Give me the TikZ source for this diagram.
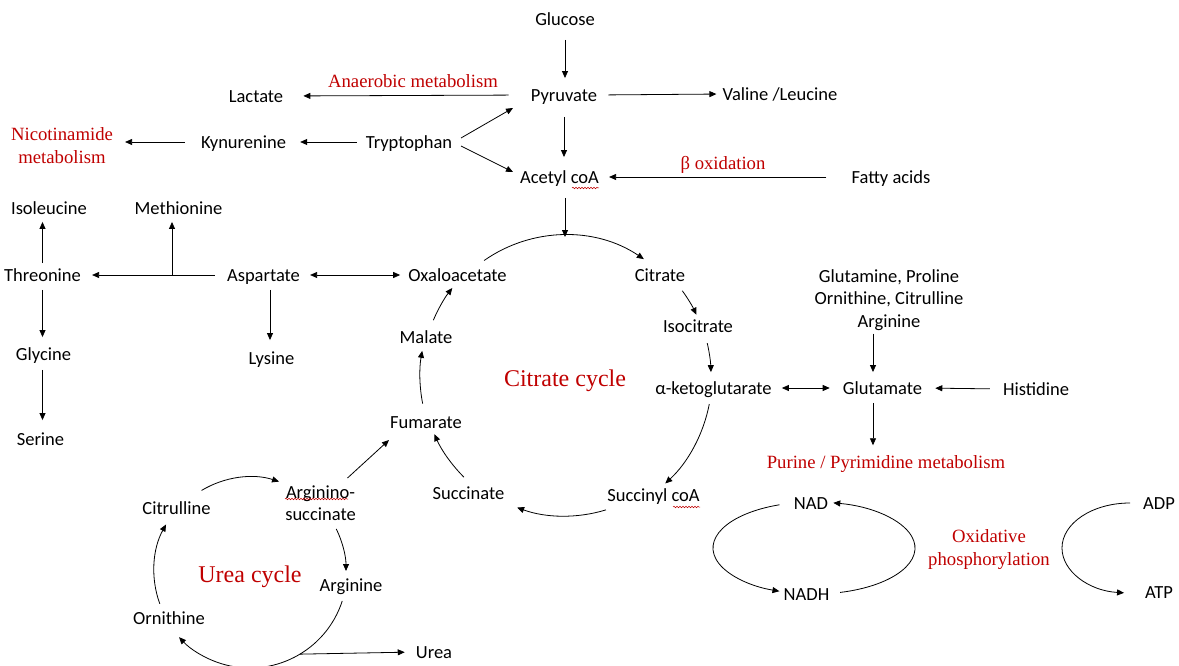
\documentclass[tikz,border=0pt]{standalone}
\usepackage{fontspec}
\newfontfamily\cfont{Carlito}
\newfontfamily\tfont{Liberation Serif}
\usetikzlibrary{arrows.meta,calc,decorations.pathmorphing}
\definecolor{redc}{HTML}{C00000}
\begin{document}
\begin{tikzpicture}[x=1pt,y=1pt,
  lb/.style={font=\cfont\fontsize{18.5}{22.5}\selectfont, inner sep=0pt, text height=14pt, text depth=1.5pt},
  lbm/.style={font=\cfont\fontsize{18.5}{22.5}\selectfont, inner sep=0pt, align=center},
  rd/.style={font=\tfont\fontsize{18.7}{23}\selectfont, text=redc, inner sep=0pt, align=center},
  rdbig/.style={font=\tfont\fontsize{24}{28}\selectfont, text=redc, inner sep=0pt},
  arr/.style={-{Triangle[length=7pt,width=6pt]}, line width=0.8pt},
  darr/.style={{Triangle[length=7pt,width=6pt]}-{Triangle[length=7pt,width=6pt]}, line width=0.8pt},
  squig/.style={redc, line width=0.5pt, decorate, decoration={snake, amplitude=0.8pt, segment length=3pt}}
]
\fill[white] (0,0) rectangle (1179,-666);
\useasboundingbox (0,0) rectangle (1179,-666);

% --- metabolites ---
\node[lb] (glu) at (565,-19) {Glucose};
\node[lb] (pyr) at (564,-95) {Pyruvate};
\node[lb] (lac) at (256,-96) {Lactate};
\node[lb] (val) at (780,-94) {Valine /Leucine};
\node[lb] (kyn) at (243.5,-142) {Kynurenine};
\node[lb] (try) at (409,-142) {Tryptophan};
\node[lb] (ace) at (559.5,-177) {Acetyl coA};
\node[lb] (fat) at (891,-177) {Fatty acids};
\node[lb] (iso) at (49,-208) {Isoleucine};
\node[lb] (met) at (178.5,-208) {Methionine};
\node[lb] (thr) at (42.5,-275) {Threonine};
\node[lb] (asp) at (263.5,-275) {Aspartate};
\node[lb] (oxa) at (457.5,-275) {Oxaloacetate};
\node[lb] (cit) at (660,-275) {Citrate};
\node[lbm] (gln) at (889,-300) {Glutamine, Proline\\Ornithine, Citrulline\\Arginine};
\node[lb] (icit) at (698,-326) {Isocitrate};
\node[lb] (mal) at (426,-337) {Malate};
\node[lb] (lys) at (271.5,-358) {Lysine};
\node[lb] (gly) at (43.5,-354) {Glycine};
\node[lb] (akg) at (713.5,-388) {α-ketoglutarate};
\node[lb] (glm) at (882.5,-388) {Glutamate};
\node[lb] (his) at (1036,-389) {Histidine};
\node[lb] (fum) at (426,-422) {Fumarate};
\node[lb] (ser) at (40.5,-439) {Serine};
\node[lb] (suc) at (468.5,-493) {Succinate};
\node[lb] (sca) at (653.5,-495) {Succinyl coA};
\node[lbm] (asu) at (320.5,-503) {Arginino-\\succinate};
\node[lb] (ctl) at (176.5,-508) {Citrulline};
\node[lb] (nad) at (811,-503) {NAD};
\node[lb] (adp) at (1159,-503) {ADP};
\node[lb] (arg) at (351,-585) {Arginine};
\node[lb] (nadh) at (806.5,-594) {NADH};
\node[lb] (atp) at (1159,-592) {ATP};
\node[lb] (orn) at (169,-618) {Ornithine};
\node[lb] (urea) at (434,-652) {Urea};

% --- pathway labels ---
\node[rd] (anae) at (413,-81) {Anaerobic metabolism};
\node[rd] (nic) at (62,-146) {Nicotinamide\\metabolism};
\node[rd] (beta) at (723,-165) {β oxidation};
\node[rd] (pur) at (886,-464) {Purine / Pyrimidine metabolism};
\node[rd] (oxp) at (989,-550) {Oxidative\\phosphorylation};
\node[rdbig] (tca) at (565,-381) {Citrate cycle};
\node[rdbig] (ucl) at (250,-577) {Urea cycle};

% cycle centres and branch points
\coordinate (tcac) at (565,-376);
\coordinate (ucc) at (250,-571);
\coordinate (nadc) at (814,-548);
\coordinate (atpc) at (1130,-548);
\coordinate (br) at (172,-275);
\coordinate (gax) at (873,-388);

% --- spelling squiggles ---
\draw[squig] (572,-188) -- (599,-188);
\draw[squig] (673,-507) -- (700,-507);
\draw[squig] (285,-499) -- (348,-499);

% --- glycolysis and entry points ---
\draw[arr, shorten <=13pt, shorten >=9pt] (glu.south) -- (glu.south |- pyr.north);
\draw[arr, shorten <=22pt, shorten >=20pt] (pyr.west) -- (lac.east);
\draw[arr, shorten <=11pt, shorten >=6pt] (pyr.east) -- (val.west);
\draw[arr, shorten <=14pt, shorten >=12pt] (pyr.south) -- (pyr.south |- ace.north);
\draw[arr] ($(try.center)+(52,4)$) -- ($(pyr.center)+(-51,-13)$);
\draw[arr] ($(try.center)+(52,-4)$) -- ($(ace.center)+(-46.5,5)$);
\draw[arr, shorten <=9pt, shorten >=14pt] (try.west) -- (kyn.east);
\draw[arr, shorten <=16pt, shorten >=12pt] (kyn.west) -- (kyn.west -| nic.east);
\draw[arr, shorten <=25pt, shorten >=10pt] (fat.west) -- (ace.east);
\draw[arr, shorten <=13pt] (ace.south -| tcac) -- ($(tcac)+(0,139)$);

% --- aspartate family ---
\draw[arr, shorten <=12pt, shorten >=11pt] (asp.west) -- (thr.east);
\draw[arr, shorten >=6pt] (br) -- (br |- met.south);
\draw[arr, shorten <=4pt, shorten >=6pt] (thr.north) -- (thr.north |- iso.south);
\draw[arr, shorten <=7pt, shorten >=9pt] (thr.south) -- (thr.south |- gly.north);
\draw[arr, shorten <=8pt, shorten >=11pt] (gly.south -| thr) -- (thr |- ser.north);
\draw[arr, shorten <=7pt, shorten >=10pt] ([xshift=-1.5pt]lys.north |- asp.south) -- ([xshift=-1.5pt]lys.north);
\draw[darr, shorten <=10pt, shorten >=8pt] (asp.east) -- (oxa.west);

% --- citrate cycle ---
\draw[arr] ($(tcac)+(125:141)$) arc[start angle=125, end angle=56, radius=141];
\draw[arr] ($(tcac)+(36:145)$) arc[start angle=36, end angle=25, radius=145];
\draw[arr] ($(tcac)+(13:146)$) arc[start angle=13, end angle=1.5, radius=146];
\draw[arr] ($(tcac)+(-11:147)$) arc[start angle=-11, end angle=-47, radius=147];
\draw[arr] ($(tcac)+(-73:140)$) arc[start angle=-73, end angle=-110, radius=140];
\draw[arr] ($(tcac)+(-135:143)$) arc[start angle=-135, end angle=-156, radius=143];
\draw[arr] ($(tcac)+(191:145)$) arc[start angle=191, end angle=170, radius=145];
\draw[arr] ($(tcac)+(157:143)$) arc[start angle=157, end angle=142, radius=143];

% --- glutamate family ---
\draw[darr, shorten <=10pt, shorten >=13pt] (akg.east) -- (glm.west);
\draw[arr, shorten <=13pt, shorten >=13pt] (his.west) -- (glm.east);
\draw[arr, shorten <=3pt, shorten >=8pt] (gax |- gln.south) -- (gax |- glm.north);
\draw[arr, shorten <=7pt] (gax |- glm.south) -- ($(gax |- pur.north)+(0,10)$);

% --- urea cycle ---
\draw[arr] ($(asu.center)+(27,25)$) -- ($(fum.center)+(-37,-18)$);
\draw[arr] ($(ucc)+(121:94)$) arc[start angle=121, end angle=72, radius=94];
\draw[arr] ($(ucc)+(26:96)$) arc[start angle=26, end angle=0, radius=96];
\draw[arr] ($(ucc)+(-18:97)$) arc[start angle=-18, end angle=-137, radius=97];
\draw[arr] ($(ucc)+(200:96)$) arc[start angle=200, end angle=151, radius=96];
\draw[arr, shorten >=11pt] ($(ucc)+(-59:97)$) -- (urea.west);

% --- oxidative phosphorylation ---
\draw[arr] ($(nadc)+({101*cos(110)},{46*sin(110)})$) arc[start angle=110, end angle=250, x radius=101, y radius=46];
\draw[arr] ($(nadc)+({101*cos(-75)},{46*sin(-75)})$) arc[start angle=-75, end angle=79, x radius=101, y radius=46];
\draw[arr] ($(atpc)+(0,45)$) arc[start angle=90, end angle=265, x radius=68, y radius=45];
\end{tikzpicture}
\end{document}
